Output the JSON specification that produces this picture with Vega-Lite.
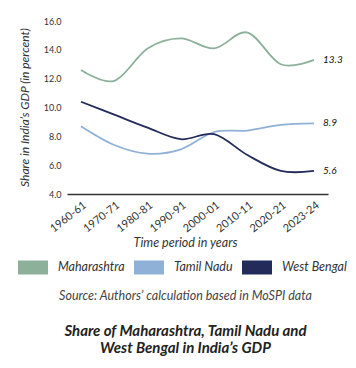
{
  "$schema": "https://vega.github.io/schema/vega-lite/v6.json",
  "width": 261,
  "height": 173,
  "autosize": "none",
  "padding": {"left": 67, "top": 21, "right": 28, "bottom": 174},
  "background": "white",
  "config": {
    "font": "Lato",
    "view": {"stroke": null}
  },
  "title": {
    "text": "Source: Authors’ calculation based in MoSPI data",
    "subtitle": ["Share of Maharashtra, Tamil Nadu and", "West Bengal in India’s GDP"],
    "orient": "bottom",
    "anchor": "middle",
    "frame": "group",
    "dx": -12,
    "offset": 15,
    "fontSize": 12.5,
    "fontStyle": "italic",
    "fontWeight": "normal",
    "color": "#444444",
    "subtitleFontSize": 15,
    "subtitleFontStyle": "italic",
    "subtitleFontWeight": "bold",
    "subtitleColor": "#222222",
    "subtitleLineHeight": 17.6,
    "subtitlePadding": 21
  },
  "data": {
    "values": [
      {"period": "1960-61", "state": "Maharashtra", "share": 12.6},
      {"period": "1970-71", "state": "Maharashtra", "share": 11.85},
      {"period": "1980-81", "state": "Maharashtra", "share": 14.1},
      {"period": "1990-91", "state": "Maharashtra", "share": 14.8},
      {"period": "2000-01", "state": "Maharashtra", "share": 14.1},
      {"period": "2010-11", "state": "Maharashtra", "share": 15.2},
      {"period": "2020-21", "state": "Maharashtra", "share": 13.0},
      {"period": "2023-24", "state": "Maharashtra", "share": 13.3},
      {"period": "1960-61", "state": "Tamil Nadu", "share": 8.7},
      {"period": "1970-71", "state": "Tamil Nadu", "share": 7.4},
      {"period": "1980-81", "state": "Tamil Nadu", "share": 6.8},
      {"period": "1990-91", "state": "Tamil Nadu", "share": 7.1},
      {"period": "2000-01", "state": "Tamil Nadu", "share": 8.3},
      {"period": "2010-11", "state": "Tamil Nadu", "share": 8.4},
      {"period": "2020-21", "state": "Tamil Nadu", "share": 8.8},
      {"period": "2023-24", "state": "Tamil Nadu", "share": 8.9},
      {"period": "1960-61", "state": "West Bengal", "share": 10.4},
      {"period": "1970-71", "state": "West Bengal", "share": 9.5},
      {"period": "1980-81", "state": "West Bengal", "share": 8.6},
      {"period": "1990-91", "state": "West Bengal", "share": 7.8},
      {"period": "2000-01", "state": "West Bengal", "share": 8.15},
      {"period": "2010-11", "state": "West Bengal", "share": 6.7},
      {"period": "2020-21", "state": "West Bengal", "share": 5.6},
      {"period": "2023-24", "state": "West Bengal", "share": 5.6}
    ]
  },
  "encoding": {
    "x": {
      "field": "period",
      "type": "ordinal",
      "scale": {"type": "point", "padding": 0.42},
      "axis": {
        "title": "Time period in years",
        "titleFont": "Lato",
        "titleFontSize": 12.5,
        "titleFontStyle": "italic",
        "titleFontWeight": "normal",
        "titleColor": "#333333",
        "titleX": 118,
        "titleY": 48,
        "titleBaseline": "middle",
        "labelAngle": -38,
        "labelFontSize": 11,
        "labelColor": "#333333",
        "labelPadding": 5,
        "domainColor": "#333333",
        "domainWidth": 1.5,
        "ticks": false,
        "grid": false
      }
    },
    "y": {
      "field": "share",
      "type": "quantitative",
      "scale": {"domain": [4, 16], "nice": false, "zero": false},
      "axis": {
        "title": "Share in India’s GDP (in percent)",
        "titleFontSize": 12,
        "titleFontStyle": "italic",
        "titleFontWeight": "normal",
        "titleColor": "#333333",
        "titleX": -43,
        "titleY": 86,
        "titleAngle": -90,
        "titleAlign": "center",
        "titleBaseline": "middle",
        "values": [4, 6, 8, 10, 12, 14, 16],
        "format": ".1f",
        "labelFontSize": 9,
        "labelColor": "#333333",
        "labelPadding": 6,
        "domain": false,
        "ticks": false,
        "grid": false
      }
    },
    "color": {
      "field": "state",
      "type": "nominal",
      "scale": {
        "domain": ["Maharashtra", "Tamil Nadu", "West Bengal"],
        "range": ["#8cb09a", "#8fb1d7", "#232b5a"]
      },
      "legend": {
        "title": null,
        "orient": "none",
        "legendX": -49,
        "legendY": 231,
        "direction": "horizontal",
        "symbolType": "M-1,-0.467L1,-0.467L1,0.467L-1,0.467Z",
        "symbolSize": 900,
        "symbolStrokeWidth": 0,
        "symbolOpacity": 1,
        "labelFontSize": 12.5,
        "labelFontStyle": "italic",
        "labelColor": "#333333",
        "labelOffset": 10,
        "columnPadding": 9,
        "encode": {
          "symbols": {
            "update": {
              "fill": {"scale": "color", "field": "value"},
              "fillOpacity": {"value": 1},
              "strokeWidth": {"value": 0}
            }
          }
        }
      }
    }
  },
  "layer": [
    {
      "mark": {"type": "line", "interpolate": "cardinal", "strokeWidth": 1.8}
    },
    {
      "transform": [{"filter": "datum.period === '2023-24'"}],
      "mark": {"type": "text", "align": "left", "dx": 9, "fontSize": 10, "fontStyle": "italic", "color": "#111111"},
      "encoding": {
        "text": {"field": "share", "type": "quantitative", "format": ".1f"},
        "color": {"value": "#111111"}
      }
    }
  ]
}
